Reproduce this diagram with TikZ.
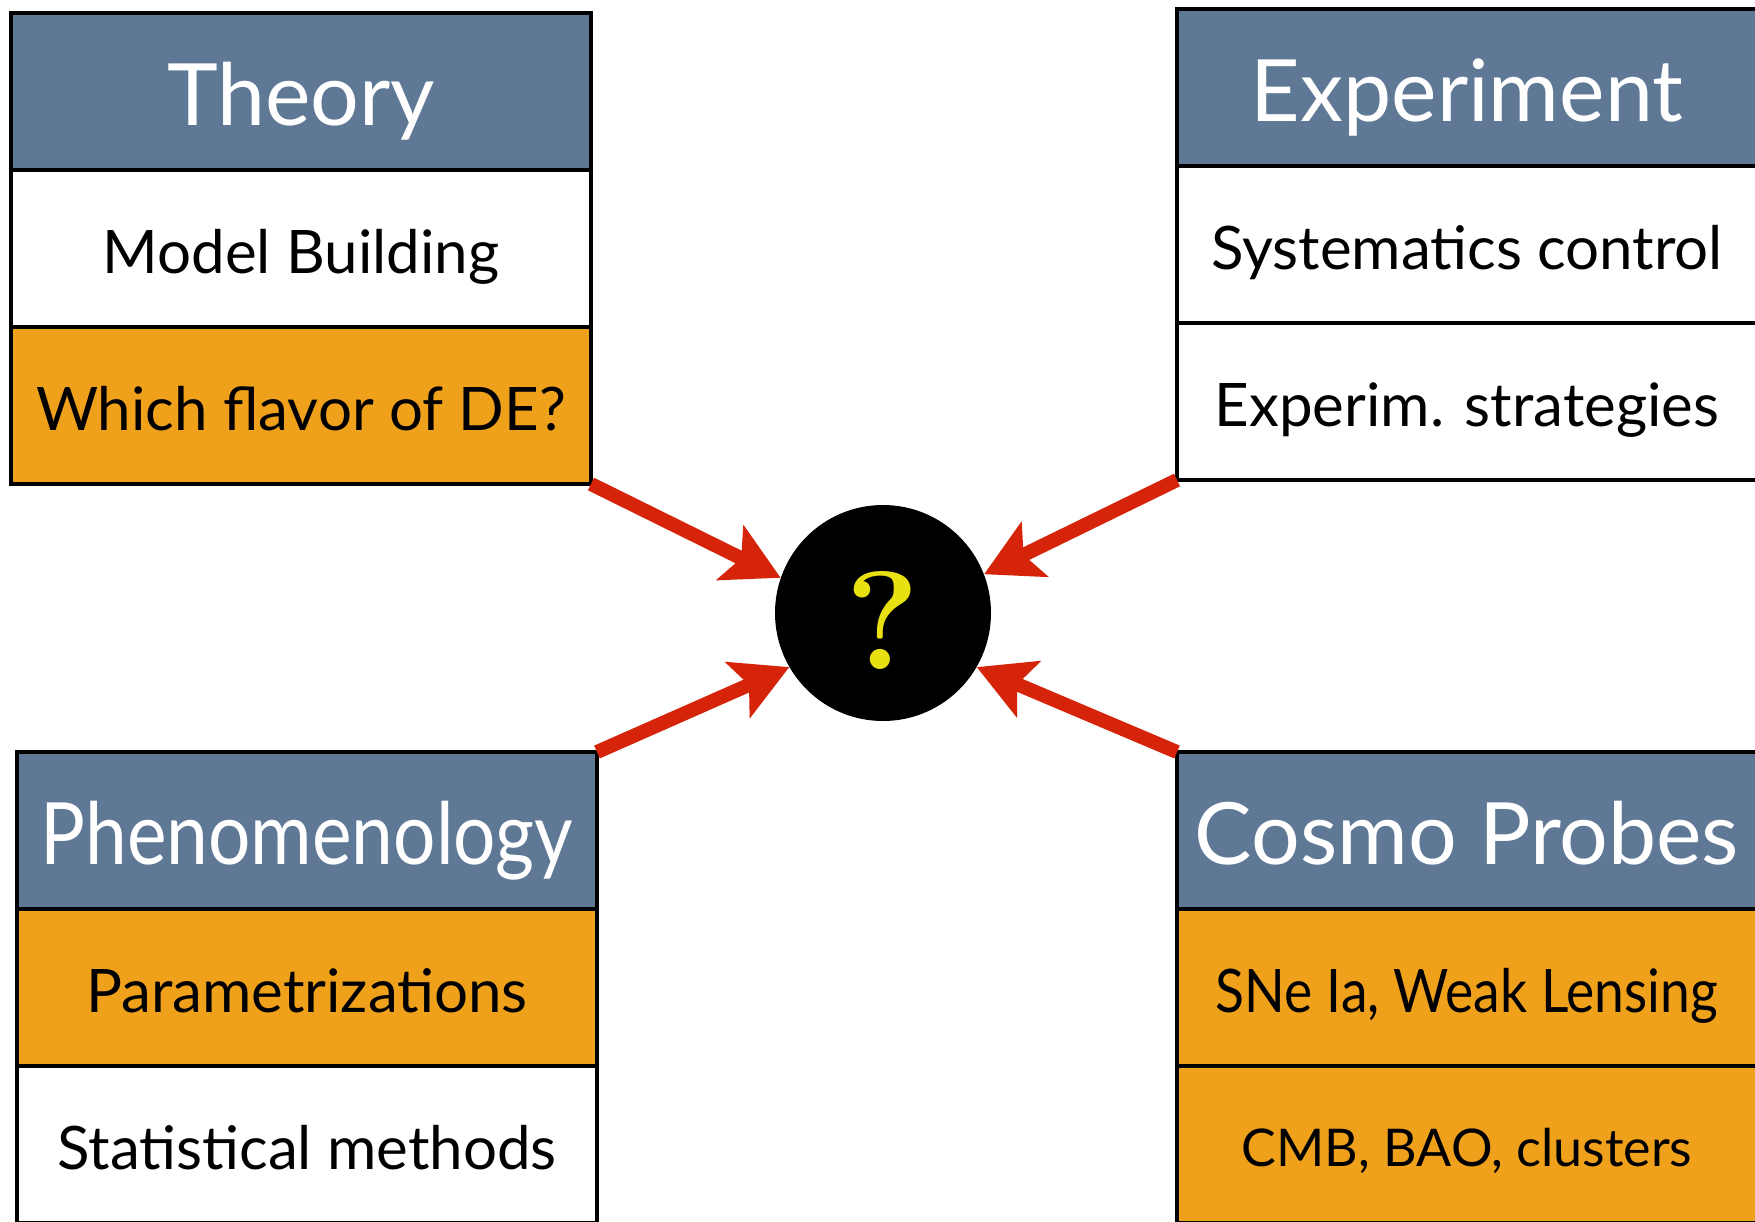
\documentclass[tikz,border=0pt]{standalone}
\usepackage{fontspec}
\setmainfont{Lato}
\newfontfamily\qfont{Latin Modern Roman}
\usetikzlibrary{arrows.meta}

\definecolor{hdrblue}{HTML}{5E7896}
\definecolor{amber}{HTML}{EFA11B}
\definecolor{arrowred}{HTML}{D6240A}
\definecolor{qyellow}{HTML}{E8E010}

\tikzset{
  cell/.style={draw=black, line width=4pt, minimum width=580pt, minimum height=157pt,
    anchor=north west, inner sep=0pt, outer sep=0pt},
  head/.style={cell, fill=hdrblue, text=white, font=\fontsize{86}{86}\selectfont,
    text height=68pt, text depth=0pt},
  plain/.style={cell, fill=white, font=\fontsize{60}{60}\selectfont,
    text height=49pt, text depth=0pt},
  hot/.style={plain, fill=amber},
  small/.style={font=\fontsize{52}{52}\selectfont, text height=43pt},
  flow/.style={draw=arrowred, line width=14pt,
    -{Stealth[length=56pt,width=60pt,inset=12pt]}},
}

\begin{document}
\begin{tikzpicture}[x=1pt,y=-1pt]
\useasboundingbox (0,0) rectangle (1755,1221);
\clip (0,0) rectangle (1755,1221);
\fill[white] (0,0) rectangle (1755,1221);

% Theory
\node[head] (th0) at (11,13) {Theory};
\node[plain] (th1) at (th0.south west) {Model Building};
\node[hot] (th2) at (th1.south west) {Which flavor of DE?};

% Experiment
\node[head] (ex0) at (1177,9) {Experiment};
\node[plain] (ex1) at (ex0.south west) {Systematics control};
\node[plain] (ex2) at (ex1.south west) {Experim. strategies};

% Phenomenology
\node[head] (ph0) at (17,752) {\scalebox{0.87}[1]{Phenomenology}};
\node[hot] (ph1) at (ph0.south west) {Parametrizations};
\node[plain] (ph2) at (ph1.south west) {Statistical methods};

% Cosmological probes
\node[head] (co0) at (1177,752) {Cosmo Probes};
\node[hot] (co1) at (co0.south west) {\scalebox{0.89}[1]{SNe Ia, Weak Lensing}};
\node[hot, small] (co2) at (co1.south west) {CMB, BAO, clusters};

% central question
\node[circle, fill=black, minimum size=216pt, inner sep=0pt] (q) at (883,613) {};
\node[text=qyellow, font=\qfont\bfseries\fontsize{140}{140}\selectfont, inner sep=0pt,
  text height=100pt, text depth=0pt] (qm) at (883,619) {?};

% converging arrows
\draw[flow] (th2.south east) -- (q.161);
\draw[flow] (ex2.south west) -- (q.21);
\draw[flow] (ph0.north east) -- (q.210);
\draw[flow] (co0.north west) -- (q.330);
\end{tikzpicture}
\end{document}
